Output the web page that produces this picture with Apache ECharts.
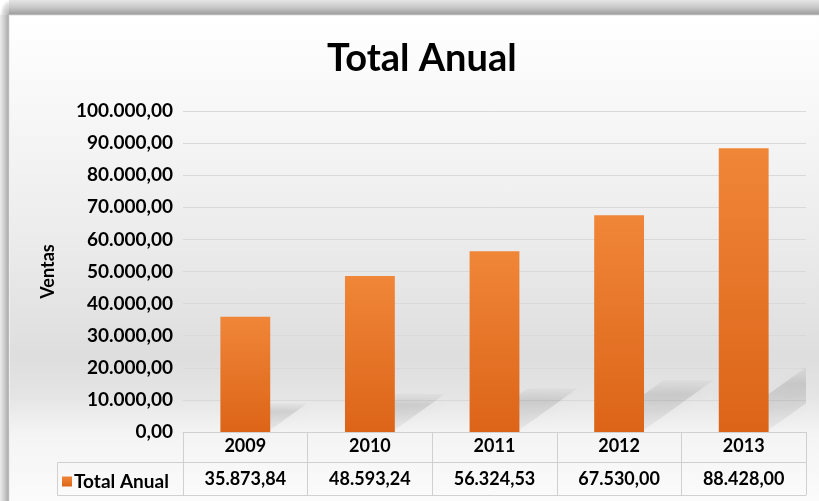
<!DOCTYPE html>
<html>
<head>
<meta charset="utf-8">
<script src="https://cdn.jsdelivr.net/npm/echarts@6/dist/echarts.min.js"></script>
<style>
  html, body { margin: 0; padding: 0; width: 819px; height: 501px; overflow: hidden; background: #ffffff; }
  #frame { position: absolute; left: 9px; top: 15px; width: 810px; height: 486px;
    background: linear-gradient(to bottom, #ffffff 0%, #f7f7f7 20%, #ececec 45%, #dedede 70%, #e4e4e4 78%, #f4f4f4 86%, #fbfbfb 100%);
    border-top: 1px solid #efefef; border-left: 1px solid #efefef; box-sizing: border-box; }
  #stop { position: absolute; left: 9px; top: 0; width: 810px; height: 15px;
    background: linear-gradient(to bottom, rgba(0,0,0,0.10) 0%, rgba(0,0,0,0.22) 50%, rgba(0,0,0,0.36) 90%, rgba(0,0,0,0.25) 100%); }
  #sleft { position: absolute; left: 0; top: 15px; width: 9px; height: 486px;
    background: linear-gradient(to right, rgba(0,0,0,0.08) 0%, rgba(0,0,0,0.2) 50%, rgba(0,0,0,0.32) 90%, rgba(0,0,0,0.22) 100%); }
  #scorner { position: absolute; left: 0; top: 0; width: 9px; height: 15px;
    background: radial-gradient(ellipse 9px 15px at 100% 100%, rgba(0,0,0,0.3) 0%, rgba(0,0,0,0.12) 70%, rgba(0,0,0,0) 100%); }
  #chart { position: absolute; left: 0; top: 0; width: 819px; height: 501px; }
</style>
</head>
<body>
<div id="stop"></div><div id="sleft"></div><div id="scorner"></div>
<div id="frame"></div>
<div id="chart"></div>
<script>
const titleText = 'Total Anual';
const yAxisName = 'Ventas';
const seriesName = 'Total Anual';
const years = ['2009', '2010', '2011', '2012', '2013'];
const totals = [35873.84, 48593.24, 56324.53, 67530.00, 88428.00];
const yMin = 0, yMax = 100000, yStep = 10000;

function fmt(v) {
  const parts = Number(v).toFixed(2).split('.');
  parts[0] = parts[0].replace(/\B(?=(\d{3})+(?!\d))/g, '.');
  return parts[0] + ',' + parts[1];
}

const FONT = 'Lato';
const TXT = '#000000';
const LINE = '#d0d0d0';
const BAR_RATIO = 0.4;

const chart = echarts.init(document.getElementById('chart'), null, { renderer: 'canvas' });
chart.setOption({
  backgroundColor: 'transparent',
  animation: false,
  title: {
    text: titleText, left: 322, top: 35,
    textStyle: { fontFamily: FONT, fontWeight: 'bold', fontSize: 38, color: TXT }
  },
  legend: {
    data: [seriesName], left: 57, top: 467, icon: 'rect', itemWidth: 10, itemHeight: 10, itemGap: 0,
    textStyle: { fontFamily: FONT, fontWeight: 'bold', fontSize: 19, color: TXT, padding: [0, 0, 0, -3] },
    selectedMode: false
  },
  grid: { left: 183, right: 13, top: 111, bottom: 69, containLabel: false },
  xAxis: [
    {
      type: 'category', data: years, position: 'bottom', z: 5,
      axisLine: { show: true, lineStyle: { color: LINE, width: 1 } },
      axisTick: { show: true, alignWithLabel: false, length: 63, lineStyle: { color: LINE } },
      axisLabel: { fontFamily: FONT, fontWeight: 'bold', fontSize: 18, color: TXT, margin: 14, verticalAlign: 'middle' },
      splitLine: { show: false }
    },
    {
      type: 'category', data: years, position: 'bottom', offset: 30,
      axisLine: { show: true, lineStyle: { color: LINE, width: 1 } },
      axisTick: { show: false },
      axisLabel: { fontFamily: FONT, fontWeight: 'bold', fontSize: 18, color: TXT, margin: 17, verticalAlign: 'middle',
        formatter: (v, i) => fmt(totals[i]) }
    },
    {
      type: 'category', data: years, position: 'bottom', offset: 63,
      axisLine: { show: true, lineStyle: { color: LINE, width: 1 } },
      axisTick: { show: false }, axisLabel: { show: false }
    }
  ],
  yAxis: {
    type: 'value', min: yMin, max: yMax, interval: yStep,
    name: yAxisName, nameLocation: 'middle', nameGap: 126, nameRotate: 90,
    nameTextStyle: { fontFamily: FONT, fontWeight: 'bold', fontSize: 18, color: TXT },
    axisLine: { show: false }, axisTick: { show: false },
    axisLabel: { fontFamily: FONT, fontWeight: 'bold', fontSize: 19, color: TXT, margin: 10, formatter: v => fmt(v) },
    splitLine: { show: true, lineStyle: { color: '#d9d9d9', width: 1 } }
  },
  graphic: [
    { type: 'polyline', silent: true,
      shape: { points: [[183, 462.5], [57.5, 462.5], [57.5, 495.5], [183, 495.5]] },
      style: { stroke: LINE, fill: null, lineWidth: 1 } }
  ],
  series: [
    {
      name: 'sombra', type: 'custom', xAxisIndex: 0, clip: true, z: 1, silent: true,
      data: totals.map((v, i) => [i, v]),
      renderItem: function (params, api) {
        const i = api.value(0), v = api.value(1);
        const base = api.coord([i, 0]);
        const top = api.coord([i, v]);
        const bw = api.size([1, 0])[0] * BAR_RATIO;
        const xl = base[0] - bw / 2, xr = base[0] + bw / 2;
        const h = base[1] - top[1];
        const dx = 0.32 * h, dy = 0.23 * h, y0 = base[1] - 2;
        return {
          type: 'polygon',
          shape: { points: [[xl, y0], [xr, y0], [xr + dx, y0 - dy], [xl + dx, y0 - dy]] },
          style: {
            fill: new echarts.graphic.LinearGradient(0, 0, 0, 1, [
              { offset: 0, color: 'rgba(0,0,0,0.02)' },
              { offset: 0.3, color: 'rgba(0,0,0,0.10)' },
              { offset: 1, color: 'rgba(0,0,0,0.04)' }
            ]),
            shadowBlur: 14, shadowColor: 'rgba(0,0,0,0.22)'
          }
        };
      }
    },
    {
      name: seriesName, type: 'bar', data: totals, barWidth: (BAR_RATIO * 100) + '%', xAxisIndex: 0, z: 2,
      itemStyle: {
        color: new echarts.graphic.LinearGradient(0, 0, 0, 1, [
          { offset: 0, color: '#f08638' }, { offset: 1, color: '#dc6418' }
        ])
      }
    }
  ]
});
</script>
</body>
</html>
